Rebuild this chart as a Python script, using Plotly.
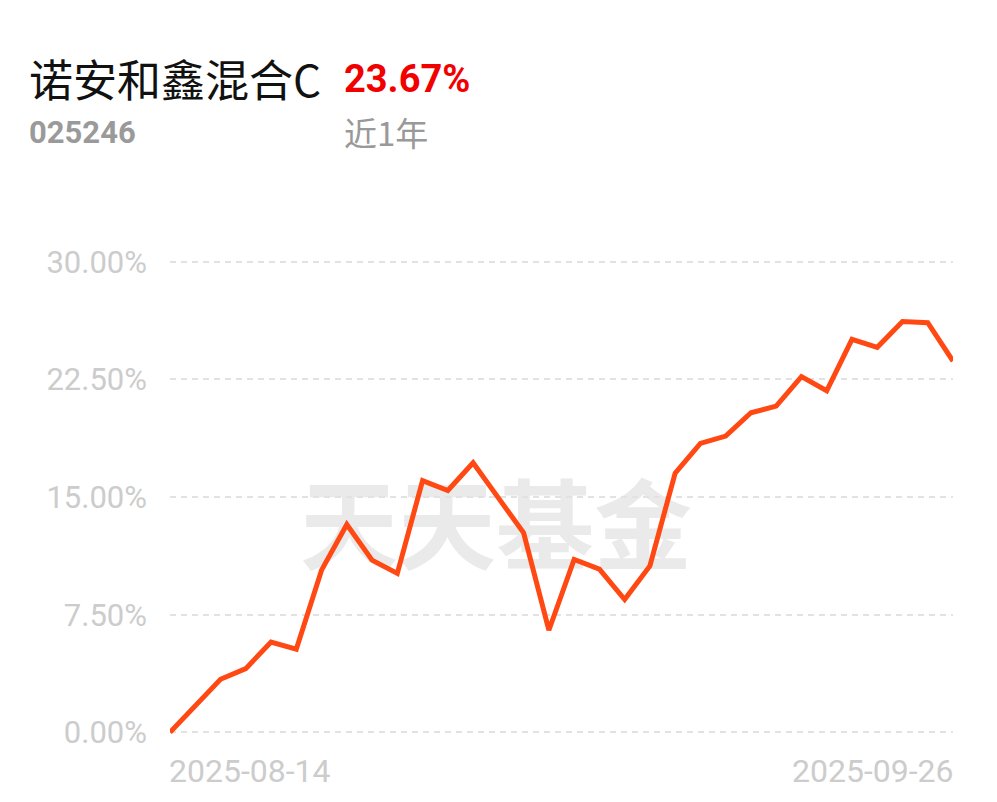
import plotly.graph_objects as go

# ---- data ----
dates = [
    "2025-08-14", "2025-08-15", "2025-08-18", "2025-08-19", "2025-08-20",
    "2025-08-21", "2025-08-22", "2025-08-25", "2025-08-26", "2025-08-27",
    "2025-08-28", "2025-08-29", "2025-09-01", "2025-09-02", "2025-09-03",
    "2025-09-04", "2025-09-05", "2025-09-08", "2025-09-09", "2025-09-10",
    "2025-09-11", "2025-09-12", "2025-09-15", "2025-09-16", "2025-09-17",
    "2025-09-18", "2025-09-19", "2025-09-22", "2025-09-23", "2025-09-24",
    "2025-09-25", "2025-09-26",
]
returns_pct = [
    0.00, 1.72, 3.38, 4.06, 5.76, 5.30, 10.34, 13.25, 10.98, 10.13,
    16.05, 15.42, 17.19, 14.95, 12.72, 6.51, 11.02, 10.40, 8.47, 10.61,
    16.53, 18.42, 18.89, 20.38, 20.80, 22.68, 21.78, 25.06, 24.55, 26.19,
    26.12, 23.67,
]
y_tick_vals = [0, 7.5, 15, 22.5, 30]
y_tick_text = ["0.00%", "7.50%", "15.00%", "22.50%", "30.00%"]
fund_name = "诺安和鑫混合C"
fund_code = "025246"
period_label = "近1年"
watermark = "天天基金"

# ---- layout geometry (page body has an 8px margin) ----
OFF = 8
W, H = 997 - OFF, 802 - OFF
ML, MT = 170 - OFF, 254 - OFF
MR = W - (953 - OFF)
MB = H - (748 - OFF)
PW, PH = W - ML - MR, H - MT - MB


def px(x):  # screen pixel -> paper
    return (x - OFF - ML) / PW


def py(y):
    return (H - MB - (y - OFF)) / PH


fig = go.Figure()
fig.add_trace(go.Scatter(
    x=dates, y=returns_pct, mode="lines",
    line=dict(color="#ff4812", width=5),
    hoverinfo="skip", showlegend=False,
))

annotations = [
    dict(text=fund_name, x=px(27), y=py(78), xanchor="left", yanchor="middle",
         font=dict(family="Noto Sans CJK SC", size=44, color="#111111")),
    dict(text=f"<b>{returns_pct[-1]:.2f}%</b>", x=px(342), y=py(79), xanchor="left", yanchor="middle",
         font=dict(family="Roboto", size=38, color="#f20000")),
    dict(text=f"<b>{fund_code}</b>", x=px(27), y=py(132), xanchor="left", yanchor="middle",
         font=dict(family="Roboto", size=31, color="#9a9a9a")),
    dict(text=period_label, x=px(342), y=py(132), xanchor="left", yanchor="middle",
         font=dict(family="Noto Sans CJK SC", size=33, color="#999999")),
    dict(text=dates[0], x=dates[0], xref="x", y=py(771), yref="paper",
         xanchor="left", yanchor="middle", xshift=-3,
         font=dict(family="Roboto", size=32, color="#cccccc")),
    dict(text=dates[-1], x=dates[-1], xref="x", y=py(771), yref="paper",
         xanchor="right", yanchor="middle", xshift=3,
         font=dict(family="Roboto", size=32, color="#cccccc")),
]
for a in annotations:
    a.setdefault("xref", "paper")
    a.setdefault("yref", "paper")
    a["showarrow"] = False

fig.add_shape(
    type="rect", xref="paper", yref="paper",
    x0=px(300), x1=px(692), y0=py(582), y1=py(488),
    line=dict(width=0), fillcolor="rgba(0,0,0,0)", layer="below",
    label=dict(text=watermark, textposition="middle center",
               font=dict(family="Noto Sans CJK SC", size=98, color="#eaeaea", weight="bold")),
)

fig.update_layout(
    width=W, height=H,
    margin=dict(l=ML, r=MR, t=MT, b=MB, pad=0),
    paper_bgcolor="white", plot_bgcolor="white",
    annotations=annotations,
    xaxis=dict(type="category", range=[0, len(dates) - 1], showticklabels=False,
               showgrid=False, zeroline=False, showline=False, ticks=""),
    yaxis=dict(range=[-1.0, 30.5], tickvals=y_tick_vals, ticktext=y_tick_text,
               showgrid=True, gridcolor="#e2e2e2", gridwidth=2, griddash="6px,5px",
               zeroline=False, showline=False, ticks="", ticklabelstandoff=22,
               tickfont=dict(family="Roboto", size=31, color="#cccccc")),
)

fig.write_html("out.html")
